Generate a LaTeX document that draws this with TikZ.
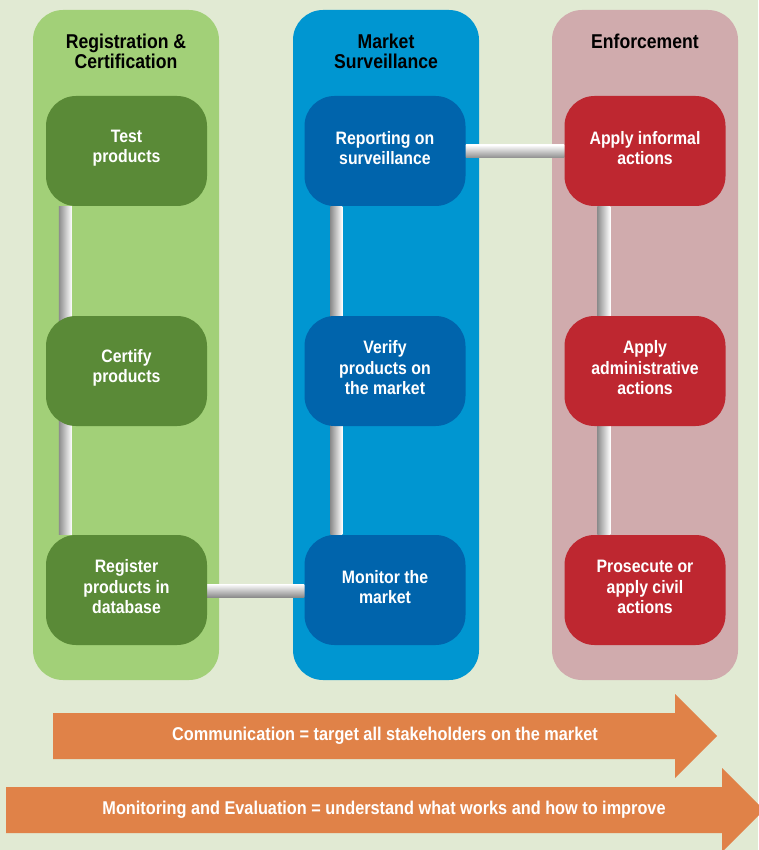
\documentclass[tikz,border=0pt]{standalone}
\usepackage{fontspec}
\setmainfont{Liberation Sans}[FakeStretch=0.88]
\usetikzlibrary{backgrounds}
\pgfdeclarelayer{barlayer}
\pgfsetlayers{background,barlayer,main}
\definecolor{bgc}{HTML}{E1EAD3}
\definecolor{gcol}{HTML}{A2D078}
\definecolor{gbox}{HTML}{5A8A37}
\definecolor{bcol}{HTML}{0096D1}
\definecolor{bbox}{HTML}{0064AC}
\definecolor{pcol}{HTML}{D0ABAD}
\definecolor{rbox}{HTML}{BE2730}
\definecolor{orng}{HTML}{E08248}
\tikzset{
  colbox/.style={rounded corners=30pt},
  stepbox/.style={rounded corners=30pt, minimum width=161pt, minimum height=110pt, inner sep=0pt},
  boxtext/.style={text=white, align=center, inner sep=0pt, font=\bfseries\fontsize{18}{20.5}\selectfont},
  heading/.style={anchor=north, align=center, inner sep=0pt, font=\bfseries\fontsize{20}{20}\selectfont},
  vbar/.style={left color=black!45, right color=white},
  hbar/.style={top color=white, bottom color=black!45},
  arrowtext/.style={text=white, font=\bfseries\fontsize{18.5}{20}\selectfont},
}
\begin{document}
\begin{tikzpicture}[x=1pt,y=-1pt]
\begin{pgfonlayer}{background}
\fill[bgc] (0,0) rectangle (758,850);
\fill[gcol, colbox] (33,10) rectangle (219,680);
\fill[bcol, colbox] (293,10) rectangle (479,680);
\fill[pcol, colbox] (552,10) rectangle (738,680);
\end{pgfonlayer}
\useasboundingbox (0,0) rectangle (758,850);
% headings
\node[heading] (h1) at (126,34) {Registration \&\\Certification};
\node[heading] (h2) at (386,34) {Market\\Surveillance};
\node[heading] (h3) at (645,34) {Enforcement};
% step boxes
\node[stepbox, fill=gbox] (test) at (126.5,151) {};
\node[stepbox, fill=gbox] (certify) at (126.5,371) {};
\node[stepbox, fill=gbox] (register) at (126.5,590) {};
\node[stepbox, fill=bbox] (report) at (385,151) {};
\node[stepbox, fill=bbox] (verify) at (385,371) {};
\node[stepbox, fill=bbox] (monitor) at (385,590) {};
\node[stepbox, fill=rbox] (informal) at (645,151) {};
\node[stepbox, fill=rbox] (admin) at (645,371) {};
\node[stepbox, fill=rbox] (prosecute) at (645,590) {};
\node[boxtext] (t1) at ([yshift=3pt]test) {Test\\products};
\node[boxtext] (t2) at ([yshift=3pt]certify) {Certify\\products};
\node[boxtext] (t3) at ([yshift=3pt]register) {Register\\products in\\database};
\node[boxtext] (t4) at ([yshift=3pt]report) {Reporting on\\surveillance};
\node[boxtext] (t5) at ([yshift=3pt]verify) {Verify\\products on\\the market};
\node[boxtext] (t6) at ([yshift=3pt]monitor) {Monitor the\\market};
\node[boxtext] (t7) at ([yshift=3pt]informal) {Apply informal\\actions};
\node[boxtext] (t8) at ([yshift=3pt]admin) {Apply\\administrative\\actions};
\node[boxtext] (t9) at ([yshift=3pt]prosecute) {Prosecute or\\apply civil\\actions};
% bars
\begin{pgfonlayer}{barlayer}
\shade[vbar] ([xshift=13pt]test.south west) rectangle ([xshift=26pt]register.north west);
\shade[vbar] ([xshift=26pt]report.south west) rectangle ([xshift=38pt]monitor.north west);
\shade[vbar] ([xshift=33pt]informal.south west) rectangle ([xshift=46pt]prosecute.north west);
\shade[hbar] ([yshift=-7pt]register.east) rectangle ([yshift=6pt]monitor.west);
\shade[hbar] ([yshift=-7pt]report.east) rectangle ([yshift=6pt]informal.west);
\end{pgfonlayer}
% arrows
\fill[orng] (53,713) -- (675,713) -- (675,694) -- (717,736) -- (675,778) -- (675,759) -- (53,759) -- cycle;
\node[arrowtext] (comm) at (385,736) {Communication = target all stakeholders on the market};
\fill[orng] (6,787) -- (722,787) -- (722,768) -- (764,810) -- (722,852) -- (722,833) -- (6,833) -- cycle;
\node[arrowtext] (meval) at (384,810) {Monitoring and Evaluation = understand what works and how to improve};
\end{tikzpicture}
\end{document}
